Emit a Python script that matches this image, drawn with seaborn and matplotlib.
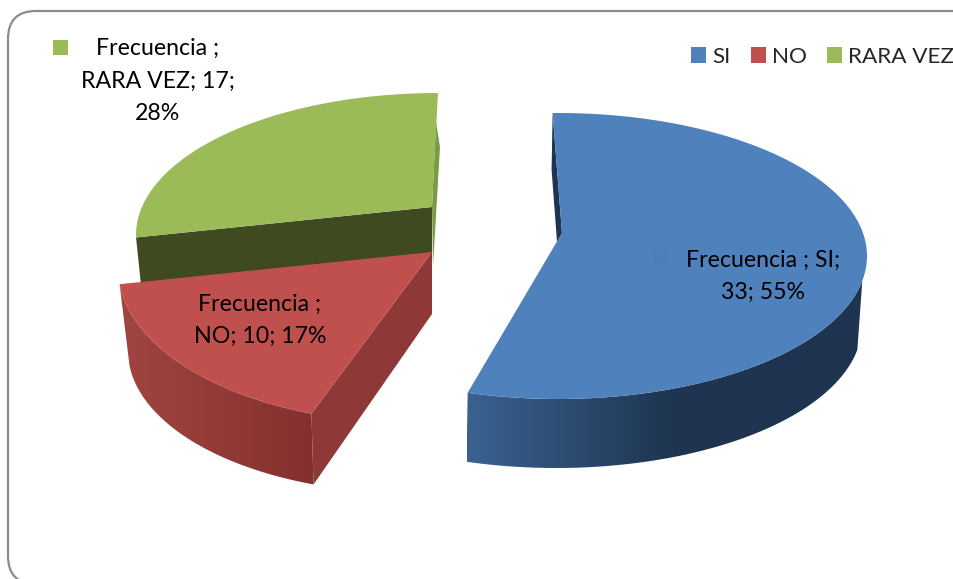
import numpy as np
import matplotlib
matplotlib.use("Agg")
import matplotlib.pyplot as plt
from matplotlib.patches import FancyBboxPatch, Patch, Polygon, Rectangle
import seaborn as sns

categories = ['SI', 'NO', 'RARA VEZ']
frecuencia = [33, 10, 17]
series_name = 'Frecuencia'

sns.set_theme(style="white")
plt.rcParams['font.family'] = ['Lato', 'DejaVu Sans']

top_colors = ['#4f81bd', '#c0504d', '#9bbb59']

# each slice sits on its own projected ellipse (the 3d view skews them)
# top = face ellipse, low = bottom rim ellipse, both (cx, cy, rx, ry)
views = [
    dict(apex=(562, 233), top=(558, 256, 309, 143), low=(556, 325, 306, 143), off=(-1, -1)),
    dict(apex=(432, 252), top=(412, 268, 294, 155), low=(410, 351, 282, 142), off=(2, 6)),
    dict(apex=(432, 207), top=(438, 235, 302, 142), low=(442, 283, 302, 142), off=(11, 0)),
]


def arc_points(ell, t0, t1, n=120):
    t = np.radians(np.linspace(t0, t1, n))
    return np.column_stack([ell[0] + ell[2] * np.sin(t), ell[1] - ell[3] * np.cos(t)])


def gradient_side(poly, x0, x1, colors, z):
    # horizontal shading of the rim, clipped to its outline
    cmap = sns.blend_palette(colors, as_cmap=True)
    patch = Polygon(poly, fc='none', ec='none', zorder=z)
    ax.add_patch(patch)
    im = ax.imshow(np.linspace(0, 1, 256)[None, :], extent=(x0, x1, 579, 0), cmap=cmap, aspect='auto', zorder=z)
    im.set_clip_path(patch)


fig, ax = plt.subplots(figsize=(9.54, 5.79), dpi=100)
fig.subplots_adjust(0, 0, 1, 1)

ax.add_patch(FancyBboxPatch((8, 11), 980, 573, boxstyle="round,pad=0,rounding_size=28",
                            fc='white', ec='#8c8c8c', lw=1.6, zorder=0))

total = sum(frecuencia)
edges = np.concatenate([[0], np.cumsum(frecuencia)]) / total * 360
angles = [(edges[i] + views[i]['off'][0], edges[i + 1] + views[i]['off'][1]) for i in range(3)]

# green slice first, it is at the back
v = views[2]
t0, t1 = angles[2]
apex = np.array(v['apex'])
p_left = arc_points(v['top'], t0, t0, 1)[0]
ax.add_patch(Polygon([apex, p_left, p_left + (5, 48), apex + (0, 48)], fc='#3f4a20', ec='none', zorder=2))
ax.add_patch(Polygon([apex + (4, -85), apex + (8, -60), apex + (1, 60), apex], fc='#7b9a45', ec='none', zorder=2))
ax.add_patch(Polygon(np.vstack([[apex], arc_points(v['top'], t0, t1)]), fc=top_colors[2], ec='none', zorder=3))

# red slice
v = views[1]
t0, t1 = angles[1]
apex = np.array(v['apex'])
p_end = arc_points(v['top'], t0, t0, 1)[0]
p_low = arc_points(v['low'], t0, t0, 1)[0]
side = np.vstack([arc_points(v['top'], t0, t1), arc_points(v['low'], t1, t0)])
gradient_side(side, 112, 315, ['#a24642', '#84302e'], 4)
ax.add_patch(Polygon([apex, p_end, p_low, apex + (0, 62)], fc='#8e3937', ec='none', zorder=5))
ax.add_patch(Polygon(np.vstack([[apex], arc_points(v['top'], t0, t1)]), fc=top_colors[1], ec='none', zorder=6))

# blue slice
v = views[0]
t0, t1 = angles[0]
apex = np.array(v['apex'])
p_start = arc_points(v['top'], t0, t0, 1)[0]
ax.add_patch(Polygon([p_start, p_start + (-1, 57), apex + (-5, 9), apex], fc='#1e3450', ec='none', zorder=7))
side = np.vstack([arc_points(v['top'], 100, t1), arc_points(v['low'], t1, 100)])
gradient_side(side, 467, 880, ['#3a6291', '#1e3450', '#1e3450'], 7)
ax.add_patch(Polygon(np.vstack([[apex], arc_points(v['top'], t0, t1, 200)]), fc=top_colors[0], ec='none', zorder=8))

# data labels
pct = [round(f / total * 100) for f in frecuencia]
fs = 16.7
ax.text(763, 276, f'{series_name} ; {categories[0]};\n{frecuencia[0]}; {pct[0]}%', ha='center', va='center',
        fontsize=fs, color='black', linespacing=1.66, zorder=10)
ax.text(260, 320, f'{series_name} ;\n{categories[1]}; {frecuencia[1]}; {pct[1]}%', ha='center', va='center',
        fontsize=fs, color='black', linespacing=1.66, zorder=10)
ax.text(158, 81, f'{series_name} ;\n{categories[2]}; {frecuencia[2]};\n{pct[2]}%', ha='center', va='center',
        fontsize=fs, color='black', linespacing=1.66, zorder=10)

# legend keys inside the labels, two of them barely show against the slice
ax.add_patch(Rectangle((53, 40), 15, 15, fc=top_colors[2], ec='none', zorder=10))
ax.add_patch(Rectangle((653, 250), 15, 15, fc='#4e7fbb', ec='none', zorder=10))
ax.add_patch(Rectangle((165, 294), 15, 15, fc='#be504d', ec='none', zorder=10))

handles = [Patch(fc=c, ec='none') for c in top_colors]
ax.legend(handles, categories, loc='upper left', bbox_to_anchor=(691 / 954, 1 - 47 / 579), ncol=3, frameon=False,
          fontsize=16.2, handlelength=0.67, handleheight=0.67, handletextpad=0.27, columnspacing=0.9, borderpad=0,
          borderaxespad=0)

ax.set_xlim(0, 954)
ax.set_ylim(579, 0)
ax.axis('off')

plt.savefig('out.png', dpi=100)
